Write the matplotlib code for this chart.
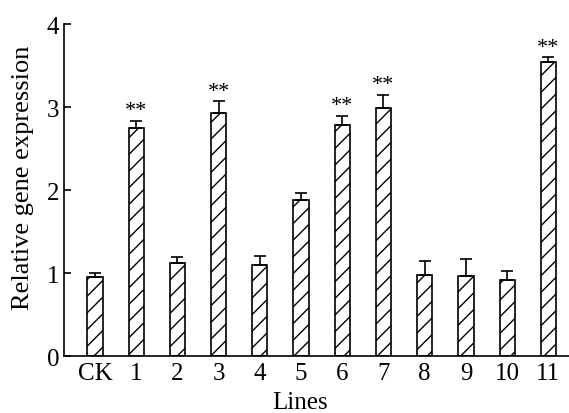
import numpy as np
import matplotlib.pyplot as plt

plt.rcParams['font.family'] = ['Liberation Serif', 'DejaVu Serif']
plt.rcParams['hatch.linewidth'] = 1.0

lines = ['CK', '1', '2', '3', '4', '5', '6', '7', '8', '9', '10', '11']
expression = [0.95, 2.75, 1.12, 2.93, 1.10, 1.88, 2.79, 2.99, 0.98, 0.97, 0.92, 3.55]
errors = [0.05, 0.09, 0.08, 0.14, 0.11, 0.09, 0.11, 0.16, 0.17, 0.20, 0.11, 0.05]
significant = ['', '**', '', '**', '', '', '**', '**', '', '', '', '**']

fig = plt.figure(figsize=(5.69, 4.14), dpi=100)
ax = fig.add_axes([0.1125, 0.137, 0.8875, 0.802])

x = np.arange(len(lines))
ax.bar(x, expression, width=0.37, color='white', edgecolor='black',
       linewidth=1.2, hatch='//', zorder=2)
ax.errorbar(x, expression, yerr=[np.zeros(len(x)), errors], fmt='none',
            ecolor='black', elinewidth=1.2, capsize=4, capthick=1.2, zorder=3)

for xi, v, e, s in zip(x, expression, errors, significant):
    if s:
        ax.text(xi, v + e + 0.01, s, ha='center', va='bottom', fontsize=16)

ax.set_xlim(-0.75, 11.5)
ax.set_ylim(0, 4)
ax.set_yticks([0, 1, 2, 3, 4])
ax.set_xticks(x)
ax.set_xticklabels(lines)
ax.tick_params(axis='both', direction='in', labelsize=18, width=1.2, length=5)
ax.tick_params(axis='x', length=4, pad=4)
ax.spines['top'].set_visible(False)
ax.spines['right'].set_visible(False)
ax.spines['left'].set_linewidth(1.2)
ax.spines['bottom'].set_linewidth(1.2)

ax.set_xlabel('Lines', fontsize=18)
ax.xaxis.set_label_coords(0.467, -0.104)
ax.set_ylabel('Relative gene expression', fontsize=19)
ax.yaxis.set_label_coords(-0.06, 0.54)

fig.savefig('out.png', dpi=100)
